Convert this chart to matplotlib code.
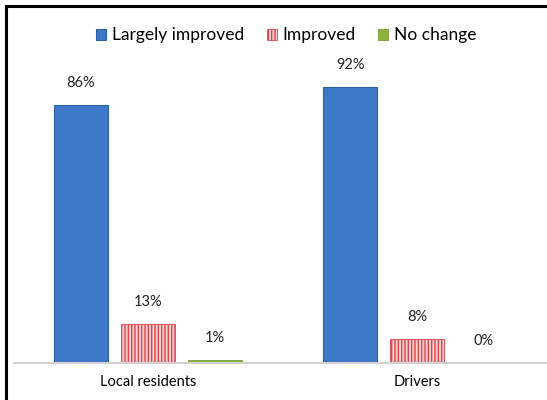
import matplotlib.pyplot as plt
import numpy as np

groups = ["Local residents", "Drivers"]
series = ["Largely improved", "Improved", "No change"]
largely_improved = [86, 92]
improved = [13, 8]
no_change = [1, 0]

plt.rcParams['font.family'] = ['Lato', 'DejaVu Sans']
plt.rcParams['hatch.color'] = "#e0424a"
plt.rcParams['hatch.linewidth'] = 1.0

fig = plt.figure(figsize=(5.47, 4.0), dpi=100)
ax = fig.add_axes([14 / 547, 37 / 400, 533 / 547, 300 / 400])

x = np.arange(len(groups))
width = 0.2
offset = 0.249

styles = [
    dict(color="#3d78c8", edgecolor="#2d609f", linewidth=0.8),
    dict(color="#f9d3d3", edgecolor="#e0424a", hatch="|||||", linewidth=0.6),
    dict(color="#8cb33e", edgecolor="#76a030", linewidth=0.6),
]

for i, (name, vals) in enumerate(zip(series, [largely_improved, improved, no_change])):
    bars = ax.bar(x + (i - 1) * offset, vals, width, label=name, **styles[i])
    for b, v in zip(bars, vals):
        ax.annotate(f"{v}%", (b.get_x() + b.get_width() / 2, b.get_height()),
                    xytext=(0, 11), textcoords="offset points",
                    ha="center", va="bottom", fontsize=10.5, color="#222222")

ax.set_xlim(-0.498, 1.483)
ax.set_ylim(0, 100)
ax.set_xticks(x)
ax.set_xticklabels(groups, fontsize=10.5)
ax.tick_params(axis="x", length=0, pad=9)
ax.set_yticks([])
for s in ["top", "right", "left"]:
    ax.spines[s].set_visible(False)
ax.spines["bottom"].set_color("#d0d0d0")
ax.spines["bottom"].set_linewidth(1.5)

leg = fig.legend(loc="center", bbox_to_anchor=(0.523, 0.912), ncol=3, frameon=False,
                 fontsize=12.5, handlelength=0.6, handleheight=0.6,
                 handletextpad=0.3, columnspacing=1.3)

# outer frame, top and left edges only
fig.add_artist(plt.Line2D([6 / 547, 6 / 547], [0, 394 / 400], color="black", lw=2.2,
                          transform=fig.transFigure))
fig.add_artist(plt.Line2D([6 / 547, 1], [394 / 400, 394 / 400], color="black", lw=2.2,
                          transform=fig.transFigure))

plt.savefig("out.png", dpi=100)
